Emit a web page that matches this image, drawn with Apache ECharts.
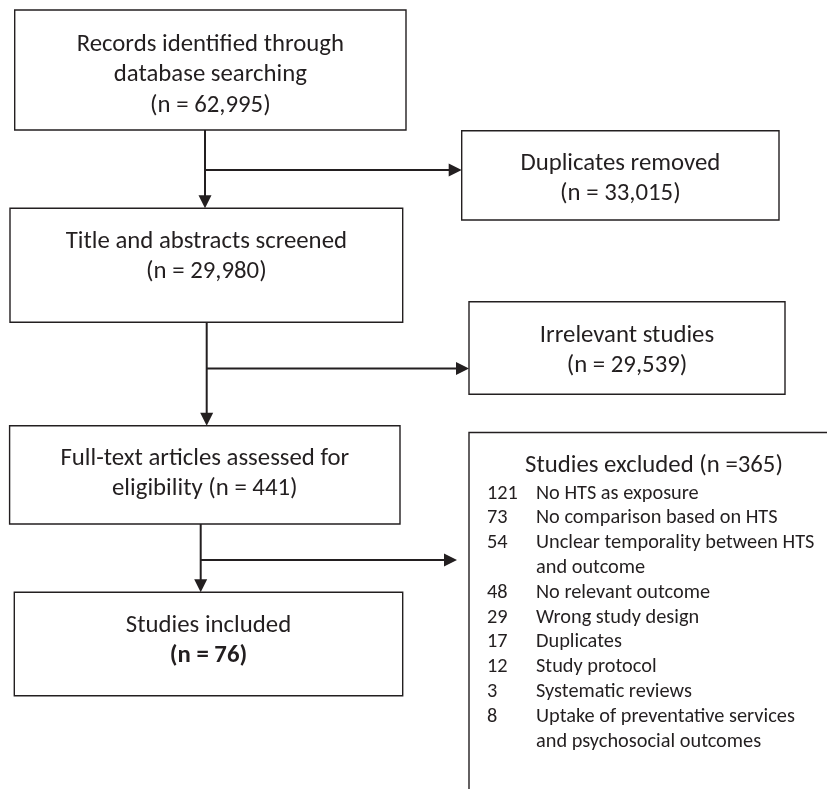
<!DOCTYPE html>
<html>
<head>
<meta charset="utf-8">
<script src="https://cdn.jsdelivr.net/npm/echarts@6/dist/echarts.min.js"></script>
<style>
html,body{margin:0;padding:0;background:#ffffff;}
#chart{width:827px;height:789px;}
</style>
</head>
<body>
<div id="chart"></div>
<script>
// ---------------- data ----------------
// '{n}' is replaced by the count; a line starting with '*' is bold
const stageTemplates = [
  'Records identified through\ndatabase searching\n(n = {n})',
  'Title and abstracts screened\n(n = {n})',
  'Full-text articles assessed for\neligibility (n = {n})',
  'Studies included\n*(n = {n})'
];
const stageCounts = [62995, 29980, 441, 76];

const exclusionTemplates = [
  'Duplicates removed\n(n = {n})',
  'Irrelevant studies\n(n = {n})',
  'Studies excluded (n ={n})'
];
const exclusionCounts = [33015, 29539, 365];

const reasonCounts = [121, 73, 54, 48, 29, 17, 12, 3, 8];
const reasonLabels = [
  'No HTS as exposure',
  'No comparison based on HTS',
  'Unclear temporality between HTS\nand outcome',
  'No relevant outcome',
  'Wrong study design',
  'Duplicates',
  'Study protocol',
  'Systematic reviews',
  'Uptake of preventative services\nand psychosocial outcomes'
];

// ---------------- layout (axis units = page pixels) ----------------
const stageRects = [[14.7, 10, 406, 130], [10, 208.3, 402.7, 322.3], [9.6, 425.7, 400, 524], [14.3, 592.3, 402.7, 695.7]];
const stageTextTop = [45, 242, 459, 626];
const exclusionRects = [[461.7, 130.7, 779, 220], [469, 301.7, 785, 394.3], [469, 432.5, 839, 820]];
const exclusionTextTop = [163.5, 335.5, 465.5];
const spineX = [205, 206.7, 200.7];
const branchY = [170, 368.5, 560];
const branchTipX = [461.7, 469, 457];
const reasonNumX = 487, reasonTextX = 536, reasonTop = 493.5, reasonStep = 24.8;
const mainStep = 30.3;

const TEXT = '#231f20', LINE = '#231f20';
const FAMILY = "Carlito, Lato, 'Liberation Sans', sans-serif";

function fitSize(text, target, weight) {
  const ctx = document.createElement('canvas').getContext('2d');
  ctx.font = (weight || 'normal') + ' 100px ' + FAMILY;
  return 100 * target / ctx.measureText(text).width;
}
const mainSize = (fitSize('Title and abstracts screened', 281) + fitSize('Records identified through', 268)) / 2;
const titleSize = fitSize('Studies excluded (n =365)', 258);
const listSize = fitSize('No comparison based on HTS', 241.6);

function fmt(tpl, n) { return tpl.replace('{n}', n.toLocaleString('en-US')); }

const boxes = stageTemplates.map((t, i) => ({
  rect: stageRects[i], lines: fmt(t, stageCounts[i]).split('\n'), top: stageTextTop[i], size: mainSize
})).concat(exclusionTemplates.map((t, i) => ({
  rect: exclusionRects[i], lines: fmt(t, exclusionCounts[i]).split('\n'), top: exclusionTextTop[i],
  size: i === 2 ? titleSize : mainSize
})));

// row index of each reason (labels may wrap over two lines)
const reasonRow = [];
reasonLabels.reduce((row, lab, i) => { reasonRow[i] = row; return row + lab.split('\n').length; }, 0);

function renderBox(params, api) {
  const b = boxes[params.dataIndex];
  const p0 = api.coord([b.rect[0], b.rect[1]]);
  const p1 = api.coord([b.rect[2], b.rect[3]]);
  const cx = (p0[0] + p1[0]) / 2;
  const children = [{
    type: 'rect',
    shape: { x: p0[0], y: p0[1], width: p1[0] - p0[0], height: p1[1] - p0[1] },
    style: { fill: '#ffffff', stroke: LINE, lineWidth: 1.4 }
  }];
  b.lines.forEach((ln, k) => {
    const bold = ln.charAt(0) === '*';
    const y = api.coord([0, b.top + k * mainStep])[1];
    children.push({
      type: 'text',
      style: {
        text: bold ? ln.slice(1) : ln, x: cx, y: y,
        align: 'center', verticalAlign: 'middle', fill: TEXT,
        fontSize: b.size, fontFamily: FAMILY, fontWeight: bold ? 'bold' : 'normal'
      }
    });
  });
  return { type: 'group', children: children };
}

function arrowHead(tip, dir) {
  const L = 13, W = 6.5;
  if (dir === 'down') return [[tip[0] - W, tip[1] - L], [tip[0] + W, tip[1] - L], tip];
  return [[tip[0] - L, tip[1] - W], [tip[0] - L, tip[1] + W], tip];
}

function renderArrow(params, api) {
  const i = params.dataIndex;
  const from = stageRects[i], to = stageRects[i + 1];
  const a = api.coord([spineX[i], from[3]]);
  const b = api.coord([spineX[i], to[1]]);
  const c = api.coord([spineX[i], branchY[i]]);
  const d = api.coord([branchTipX[i], branchY[i]]);
  const st = { stroke: LINE, lineWidth: 2, fill: null };
  return {
    type: 'group',
    children: [
      { type: 'line', shape: { x1: a[0], y1: a[1], x2: b[0], y2: b[1] - 10 }, style: st },
      { type: 'polygon', shape: { points: arrowHead(b, 'down') }, style: { fill: LINE } },
      { type: 'line', shape: { x1: c[0], y1: c[1], x2: d[0] - 10, y2: d[1] }, style: st },
      { type: 'polygon', shape: { points: arrowHead(d, 'right') }, style: { fill: LINE } }
    ]
  };
}

function renderReason(params, api) {
  const i = params.dataIndex;
  const lines = reasonLabels[i].split('\n');
  const children = [];
  const y0 = api.coord([0, reasonTop + reasonRow[i] * reasonStep])[1];
  const nx = api.coord([reasonNumX, 0])[0];
  const tx = api.coord([reasonTextX, 0])[0];
  children.push({
    type: 'text',
    style: { text: String(reasonCounts[i]), x: nx, y: y0, align: 'left', verticalAlign: 'middle',
      fill: TEXT, fontSize: listSize, fontFamily: FAMILY }
  });
  lines.forEach((ln, k) => {
    const y = api.coord([0, reasonTop + (reasonRow[i] + k) * reasonStep])[1];
    children.push({
      type: 'text',
      style: { text: ln, x: tx, y: y, align: 'left', verticalAlign: 'middle',
        fill: TEXT, fontSize: listSize, fontFamily: FAMILY }
    });
  });
  return { type: 'group', children: children };
}

const chart = echarts.init(document.getElementById('chart'), null, { renderer: 'canvas' });
chart.setOption({
  animation: false,
  backgroundColor: '#ffffff',
  grid: { left: 0, right: 0, top: 0, bottom: 0, containLabel: false },
  xAxis: { type: 'value', min: 0, max: 827, show: false },
  yAxis: { type: 'value', min: 0, max: 789, inverse: true, show: false },
  series: [
    { type: 'custom', name: 'arrows', silent: true, clip: false, renderItem: renderArrow,
      data: stageRects.slice(1).map((r, i) => [spineX[i], branchY[i]]) },
    { type: 'custom', name: 'boxes', silent: true, clip: false, renderItem: renderBox,
      data: boxes.map(b => [b.rect[0], b.rect[1]]) },
    { type: 'custom', name: 'reasons', silent: true, clip: false, renderItem: renderReason,
      data: reasonCounts.map((v, i) => [reasonTextX, reasonTop + reasonRow[i] * reasonStep]) }
  ]
});
</script>
</body>
</html>
